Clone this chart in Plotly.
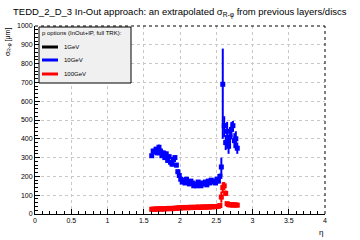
import plotly.graph_objects as go

eta = [1.61, 1.63, 1.65, 1.67, 1.69, 1.71, 1.73, 1.75, 1.77, 1.79,
       1.81, 1.83, 1.85, 1.87, 1.89, 1.91, 1.93, 1.95, 1.97, 1.99,
       2.01, 2.03, 2.05, 2.07, 2.09, 2.11, 2.13, 2.15, 2.17, 2.19,
       2.21, 2.23, 2.25, 2.27, 2.29, 2.31, 2.33, 2.35, 2.37, 2.39,
       2.41, 2.43, 2.45, 2.47, 2.49, 2.51, 2.53, 2.55, 2.57, 2.59,
       2.61, 2.63, 2.65, 2.67, 2.69, 2.71, 2.73, 2.75, 2.77, 2.79]

sig10 = [310, 335, 330, 345, 325, 355, 335, 310, 325, 300,
         320, 285, 305, 275, 265, 290, 300, 260, 225, 205,
         185, 170, 180, 165, 185, 170, 160, 175, 165, 150,
         160, 150, 170, 160, 150, 165, 160, 170, 155, 175,
         165, 180, 170, 175, 165, 185, 175, 200, 250, 690,
         470, 380, 440, 360, 410, 450, 470, 390, 400, 350]
err10_up = [12, 12, 12, 12, 12, 14, 12, 12, 12, 12,
            12, 12, 12, 12, 12, 12, 12, 12, 12, 12,
            10, 10, 10, 10, 10, 10, 10, 10, 10, 10,
            10, 10, 10, 10, 10, 10, 10, 10, 10, 10,
            10, 10, 10, 10, 10, 12, 12, 15, 50, 190,
            50, 40, 50, 40, 50, 40, 25, 40, 40, 30]
err10_dn = [12, 12, 12, 12, 12, 14, 12, 12, 12, 12,
            12, 12, 12, 12, 12, 12, 12, 12, 12, 12,
            10, 10, 10, 10, 10, 10, 10, 10, 10, 10,
            10, 10, 10, 10, 10, 10, 10, 10, 10, 10,
            10, 10, 10, 10, 10, 12, 12, 15, 50, 290,
            60, 40, 50, 40, 50, 40, 30, 40, 40, 30]

sig100 = [25, 26, 25, 27, 26, 28, 27, 26, 28, 27,
          29, 28, 30, 29, 28, 30, 31, 30, 32, 33,
          32, 34, 33, 35, 34, 33, 35, 36, 34, 35,
          36, 35, 37, 36, 35, 37, 38, 36, 37, 38,
          37, 39, 38, 40, 39, 40, 41, 45, 90, 140,
          150, 110, 55, 50, 48, 50, 47, 49, 48, 47]
err100 = [4] * 48 + [30, 30, 20, 15, 8, 6, 6, 6, 6, 6, 6, 6]

eta1 = []
sig1 = []

legend_title = "p options (InOut+IP, full TRK):"
names = ["1GeV", "10GeV", "100GeV"]
colors = ["black", "#0000ff", "#ff0000"]

fig = go.Figure()

def add_series(x, y, eu, ed, color, name):
    fig.add_trace(go.Scatter(
        x=x, y=y, mode="markers", name=name, showlegend=False,
        marker=dict(symbol="square", size=5, color=color),
        error_y=dict(type="data", array=eu, arrayminus=ed, color=color, thickness=2, width=0),
        error_x=dict(type="constant", value=0.01, color=color, thickness=2, width=0),
    ))

add_series(eta1, sig1, [], [], colors[0], names[0])
add_series(eta, sig10, err10_up, err10_dn, colors[1], names[1])
add_series(eta, sig100, err100, err100, colors[2], names[2])

font = "Liberation Sans, Arial, sans-serif"

W, H, L, R, T, B = 360, 240, 35, 35, 26, 26
pw, ph = W - L - R, H - T - B
def px(x):
    return (x - L) / pw
def py(y):
    return (H - B - y) / ph

shapes = [
    dict(type="line", xref="paper", yref="paper", x0=0, x1=1, y0=1, y1=1,
         line=dict(color="black", width=1, dash="dot")),
    dict(type="line", xref="paper", yref="paper", x0=1, x1=1, y0=0, y1=1,
         line=dict(color="black", width=1, dash="dot")),
    dict(type="rect", xref="paper", yref="paper", x0=px(39), x1=px(131), y0=py(83), y1=py(27),
         fillcolor="#f0f0f0", line=dict(color="black", width=1)),
]
annotations = [
    dict(text="TEDD_2_D_3 In-Out approach: an extrapolated σ<sub>R-φ</sub> from previous layers/discs",
         xref="paper", yref="paper", x=0.5, y=1.0, yshift=14, xanchor="center", yanchor="middle",
         showarrow=False, font=dict(size=9.5)),
    dict(text="σ<sub>R-φ</sub> [μm]", xref="paper", yref="paper", x=0, xshift=-27, y=1.0,
         xanchor="center", yanchor="top", textangle=-90, showarrow=False, font=dict(size=7)),
    dict(text="η", xref="paper", yref="paper", x=1.0, y=0, yshift=-18, xanchor="right",
         yanchor="middle", showarrow=False, font=dict(size=8)),
    dict(text=legend_title, xref="paper", yref="paper", x=px(40), y=py(33), xanchor="left",
         yanchor="middle", showarrow=False, font=dict(size=6)),
]
for i, (n, c) in enumerate(zip(names, colors)):
    yy = [47, 60, 74][i]
    shapes.append(dict(type="line", xref="paper", yref="paper", x0=px(42), x1=px(58),
                       y0=py(yy), y1=py(yy), line=dict(color=c, width=3)))
    annotations.append(dict(text=n, xref="paper", yref="paper", x=px(62), y=py(yy),
                            xanchor="left", yanchor="middle", showarrow=False, font=dict(size=6)))

fig.update_layout(
    width=W, height=H,
    margin=dict(l=L, r=R, t=T, b=B),
    paper_bgcolor="white", plot_bgcolor="white",
    font=dict(family=font, size=7, color="black"),
    showlegend=False,
    xaxis=dict(
        range=[0, 4], dtick=0.5, tick0=0, ticks="inside", ticklen=5,
        showgrid=True, gridcolor="#c8c8c8", griddash="dot", gridwidth=1,
        showline=True, linecolor="black", linewidth=1, zeroline=False,
        minor=dict(dtick=0.1, ticks="inside", ticklen=3, showgrid=False),
        tickfont=dict(size=7), tickcolor="black",
    ),
    yaxis=dict(
        range=[0, 1000], dtick=100, tick0=0, ticks="inside", ticklen=5,
        showgrid=True, gridcolor="#c8c8c8", griddash="dot", gridwidth=1,
        showline=True, linecolor="black", linewidth=1, zeroline=False,
        minor=dict(dtick=20, ticks="inside", ticklen=3, showgrid=False),
        tickfont=dict(size=7), tickcolor="black",
    ),
    shapes=shapes,
    annotations=annotations,
)

fig.write_html("out.html")
